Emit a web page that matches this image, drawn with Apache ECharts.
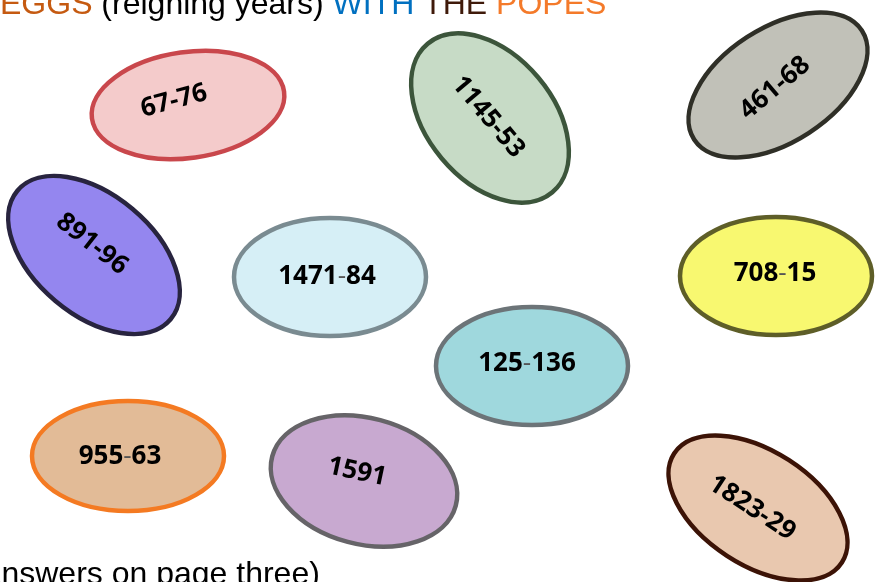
<!DOCTYPE html>
<html>
<head>
<meta charset="utf-8">
<script src="https://cdn.jsdelivr.net/npm/echarts@6/dist/echarts.min.js"></script>
<style>
  html, body { margin: 0; padding: 0; background: #fff; }
  #chart { width: 877px; height: 582px; }
</style>
</head>
<body>
<div id="chart"></div>
<script>
// reigning years, one egg each
const labels = ['67-76', '1145-53', '461-68', '891-96', '1471-84', '708-15', '125-136', '955-63', '1591', '1823-29']
// egg centres (page pixels, y downwards)
const centerX = [188, 490, 778, 94, 330, 776, 532, 128, 364, 758]
const centerY = [105, 118, 85, 255, 277, 276, 366, 456, 481, 508]

// shape + look of each egg: semi axes, tilt (deg, clockwise +), text tilt / nudge
const eggStyle = [
    { rx: 97, ry: 53, tilt: -8, textTilt: -15, dx: -14, dy: -4, fill: '#f4cbcb', stroke: '#c9474c' },
    { rx: 97, ry: 63, tilt: 50, textTilt: 50, dx: -2, dy: -1, fill: '#c7dbc6', stroke: '#3c553b' },
    { rx: 100, ry: 57, tilt: -33, textTilt: -40, dx: -3, dy: 3, fill: '#c1c1b8', stroke: '#2f2f27' },
    { rx: 100, ry: 60, tilt: 40, textTilt: 38, dx: -2, dy: -11, fill: '#9486ef', stroke: '#28243f' },
    { rx: 96, ry: 59, tilt: 0, textTilt: 0, dx: -3, dy: 0, thin: true, fill: '#d6eff6', stroke: '#7a8b91' },
    { rx: 96, ry: 59, tilt: 0, textTilt: 0, dx: -1, dy: -2, thin: true, fill: '#f8f870', stroke: '#5e5e28' },
    { rx: 96, ry: 59, tilt: 0, textTilt: 0, dx: -5, dy: -2, thin: true, fill: '#9fd8dd', stroke: '#6c7478' },
    { rx: 96, ry: 55, tilt: 0, textTilt: 0, dx: -8, dy: 1, thin: true, fill: '#e2bb97', stroke: '#f47a22' },
    { rx: 95, ry: 63, tilt: 15, textTilt: 12, dx: -7, dy: -9, fill: '#c8a9d0', stroke: '#666468' },
    { rx: 100, ry: 57, tilt: 33, textTilt: 33, dx: -6, dy: 0, fill: '#e9c8af', stroke: '#3c1306' }
]

const chart = echarts.init(document.getElementById('chart'))
const rad = d => -d * Math.PI / 180
const pageFont = '32px "Liberation Sans", Arial, sans-serif'
const eggFont = 'bold 26px "Open Sans", "Noto Sans", sans-serif'

chart.setOption({
    animation: false,
    grid: { left: 0, right: 0, top: 0, bottom: 0 },
    xAxis: { type: 'value', min: 0, max: 877, show: false },
    yAxis: { type: 'value', min: 0, max: 582, inverse: true, show: false },
    graphic: [
        {
            type: 'text', left: 0, top: -11,
            style: {
                text: '{a|EGGS} {b|(reigning years)} {c|WITH} {d|THE} {e|POPES}',
                font: pageFont,
                rich: {
                    a: { fill: '#c55a11', font: pageFont },
                    b: { fill: '#000', font: pageFont },
                    c: { fill: '#0070c0', font: pageFont },
                    d: { fill: '#3f1a0a', font: pageFont },
                    e: { fill: '#f47a2a', font: pageFont }
                }
            }
        },
        {
            type: 'text', left: -27, top: 559,
            style: {
                text: '(answers on page three)',
                fill: '#000',
                font: pageFont
            }
        }
    ],
    series: [{
        type: 'custom',
        coordinateSystem: 'cartesian2d',
        data: labels.map((l, i) => [centerX[i], centerY[i], i]),
        renderItem: (params, api) => {
            const i = api.value(2)
            const s = eggStyle[i]
            const c = api.coord([api.value(0), api.value(1)])
            const sz = api.size([s.rx, s.ry])
            const parts = labels[i].split('-')
            return {
                type: 'group',
                x: c[0], y: c[1],
                children: [
                    {
                        type: 'ellipse',
                        rotation: rad(s.tilt),
                        shape: { cx: 0, cy: 0, rx: sz[0], ry: sz[1] },
                        style: { fill: s.fill, stroke: s.stroke, lineWidth: 4.5 }
                    },
                    {
                        type: 'text',
                        x: s.dx, y: s.dy,
                        rotation: rad(s.textTilt),
                        style: {
                            text: s.thin ? '{n|' + parts[0] + '}{h|-}{n|' + parts[1] + '}' : labels[i],
                            x: 0, y: 0,
                            align: 'center', verticalAlign: 'middle',
                            fill: '#000',
                            font: eggFont,
                            rich: {
                                n: { font: eggFont, fill: '#000' },
                                h: { font: '26px "Open Sans", "Noto Sans", sans-serif', fill: '#555' }
                            }
                        }
                    }
                ]
            }
        }
    }]
})
</script>
</body>
</html>
